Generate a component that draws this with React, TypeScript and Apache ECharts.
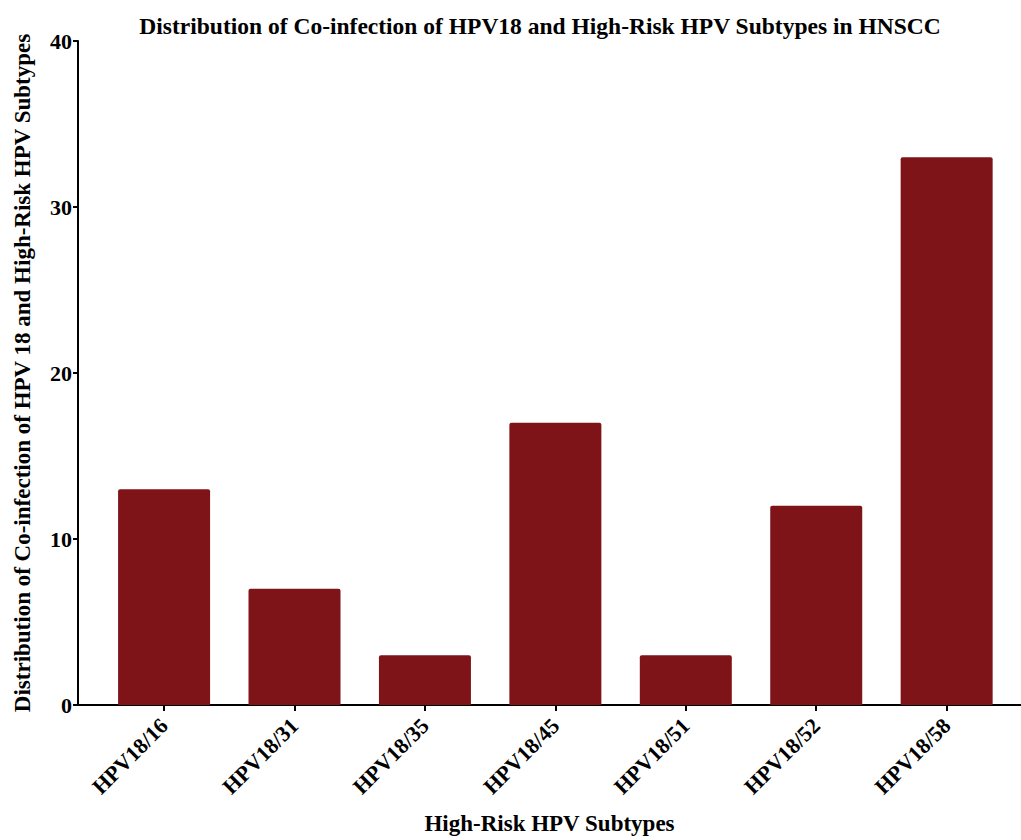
import React, { useEffect, useRef } from "react";
import * as echarts from "echarts";

const categories = ["HPV18/16", "HPV18/31", "HPV18/35", "HPV18/45", "HPV18/51", "HPV18/52", "HPV18/58"];
const values = [13, 7, 3, 17, 3, 12, 33];
const yTicks = [0, 10, 20, 30, 40];

const FONT = '"Liberation Serif", "Times New Roman", serif';

export default function App() {
  const ref = useRef<HTMLDivElement>(null);
  useEffect(() => {
    if (!ref.current) return;
    const chart = echarts.init(ref.current, null, { renderer: "svg" });
    const positions = categories.map((_, i) => i);
    chart.setOption({
      animation: false,
      title: {
        text: "Distribution of Co-infection of HPV18 and High-Risk HPV Subtypes in HNSCC",
        left: 535,
        textAlign: "center",
        top: 9,
        textStyle: { fontFamily: FONT, fontWeight: "bold", fontSize: 23.5, color: "#000" },
      },
      grid: { left: 78, right: 0, top: 41, bottom: 128, containLabel: false },
      xAxis: {
        type: "value",
        min: -0.66,
        max: 6.57,
        splitLine: { show: false },
        axisLine: { show: true, onZero: false, lineStyle: { color: "#000", width: 2 } },
        axisTick: { show: true, customValues: positions, length: 6, lineStyle: { color: "#000", width: 2 } },
        axisLabel: {
          customValues: positions,
          rotate: 45,
          margin: 17,
          formatter: (v: number) => categories[Math.round(v)] ?? "",
          fontFamily: FONT,
          fontWeight: "bold",
          fontSize: 22,
          color: "#000",
        },
        name: "High-Risk HPV Subtypes",
        nameLocation: "middle",
        nameGap: 107,
        nameTextStyle: { fontFamily: FONT, fontWeight: "bold", fontSize: 23, color: "#000" },
      },
      yAxis: {
        type: "value",
        min: 0,
        max: 40,
        interval: 10,
        splitLine: { show: false },
        axisLine: { show: true, onZero: false, lineStyle: { color: "#000", width: 2 } },
        axisTick: { show: true, length: 5, lineStyle: { color: "#000", width: 2 } },
        axisLabel: {
          formatter: (v: number) => (yTicks.includes(v) ? String(v) : ""),
          margin: 6,
          fontFamily: FONT,
          fontWeight: "bold",
          fontSize: 22,
          color: "#000",
        },
        name: "Distribution of Co-infection of HPV 18 and High-Risk HPV Subtypes",
        nameLocation: "middle",
        nameGap: 44,
        nameTextStyle: { fontFamily: FONT, fontWeight: "bold", fontSize: 23, color: "#000" },
      },
      series: [
        {
          type: "bar",
          data: values.map((v, i) => [i, v]),
          barWidth: 92,
          itemStyle: { color: "#7F1418", borderRadius: [2, 2, 0, 0] },
        },
      ],
    });
    return () => chart.dispose();
  }, []);
  return (
    <div
      ref={ref}
      style={{ position: "fixed", left: 0, top: 0, width: 1021, height: 840, background: "#fff" }}
    />
  );
}
